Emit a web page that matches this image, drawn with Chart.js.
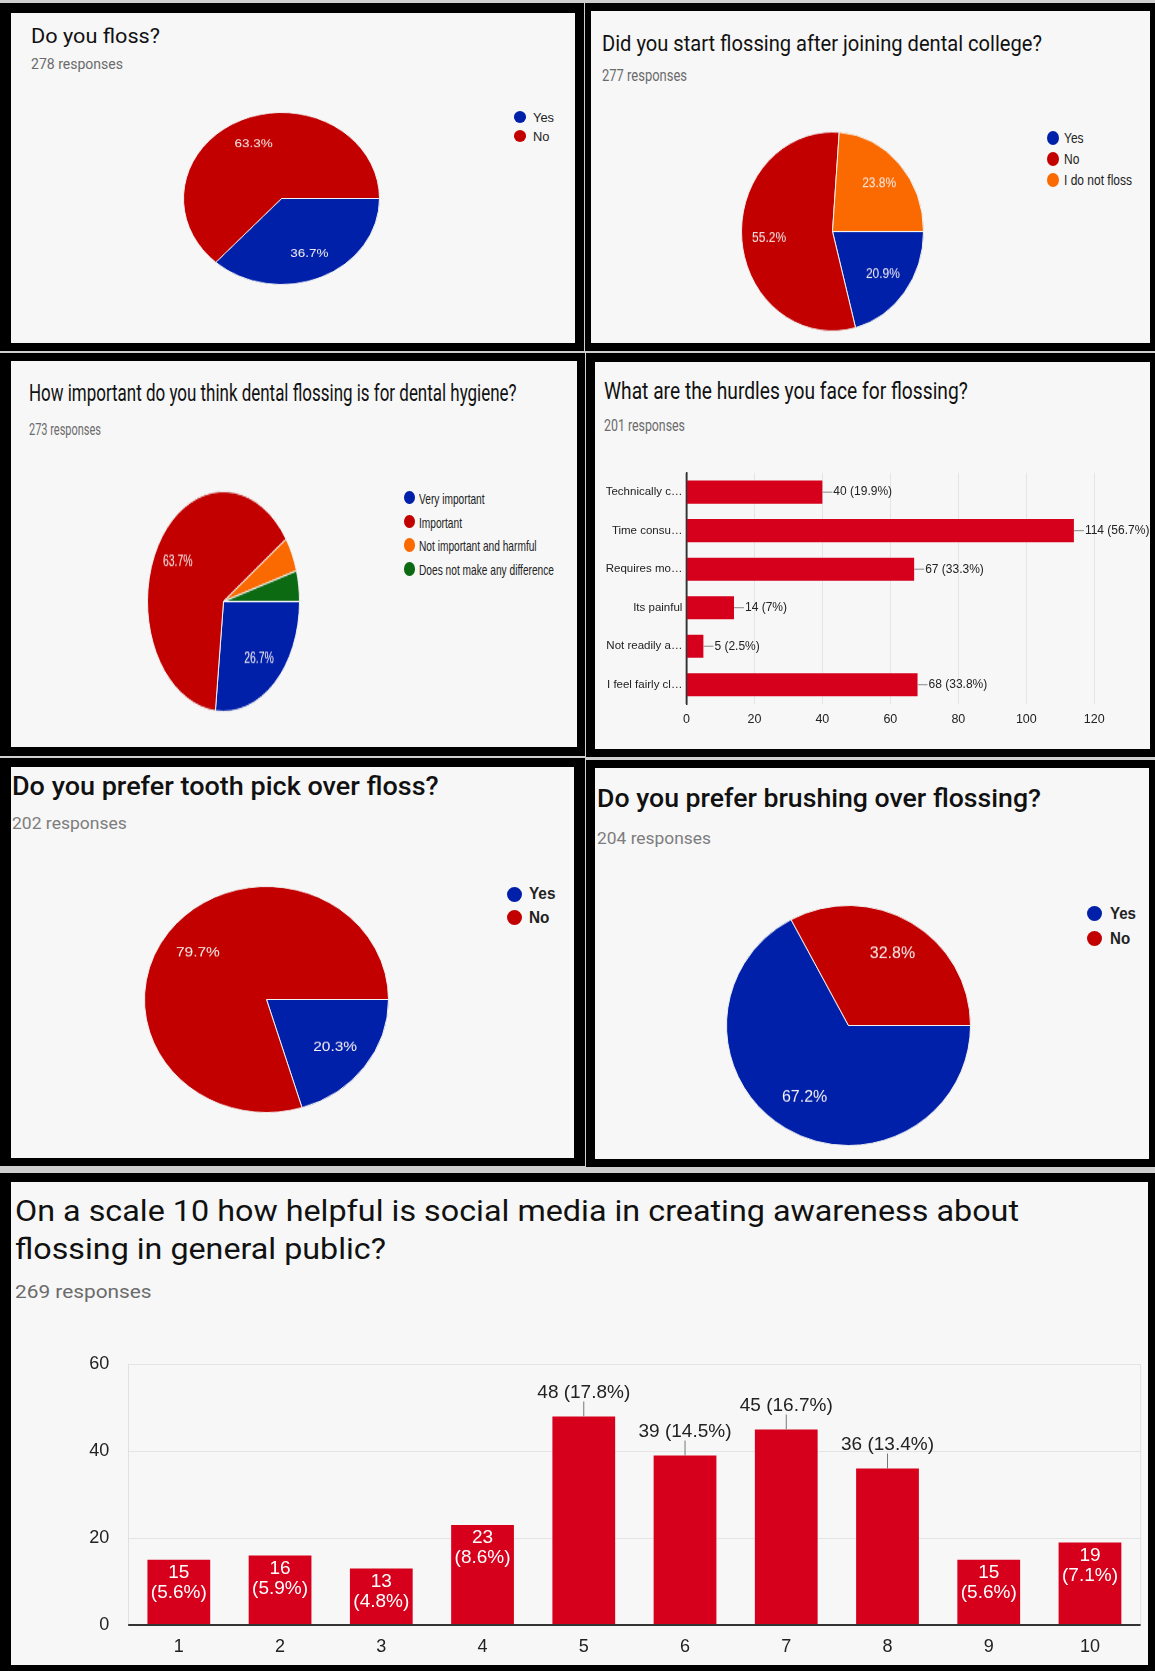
<!DOCTYPE html>
<html>
<head>
<meta charset="utf-8">
<script src="https://cdn.jsdelivr.net/npm/chart.js@4.4.0/dist/chart.umd.min.js"></script>
<style>
html, body { margin: 0; padding: 0; }
body { width: 1155px; height: 1671px; position: relative; background: #cfcfcf; overflow: hidden; font-family: Roboto, sans-serif; }
.panel { position: absolute; background: #000; }
.inner { position: absolute; background: #f7f7f7; }
.t { position: absolute; white-space: nowrap; line-height: 1; transform-origin: 0 0; }
.box { position: absolute; }
.dot { position: absolute; border-radius: 50%; }
</style>
</head>
<body>
<script>
const flossLabels = ["Yes", "No"];
const flossValues = [36.7, 63.3];

const startLabels = ["Yes", "No", "I do not floss"];
const startValues = [20.9, 55.2, 23.8];

const importanceLabels = ["Very important", "Important", "Not important and harmful", "Does not make any difference"];
const importanceValues = [26.7, 63.7, 5.1, 4.5];

const hurdleLabels = ["Technically c…", "Time consu…", "Requires mo…", "Its painful", "Not readily a…", "I feel fairly cl…"];
const hurdleCounts = [40, 114, 67, 14, 5, 68];
const hurdlePct = ["19.9%", "56.7%", "33.3%", "7%", "2.5%", "33.8%"];
const hurdleTicks = [0, 20, 40, 60, 80, 100, 120];

const toothpickLabels = ["Yes", "No"];
const toothpickValues = [20.3, 79.7];

const brushLabels = ["Yes", "No"];
const brushValues = [67.2, 32.8];

const scaleLabels = ["1", "2", "3", "4", "5", "6", "7", "8", "9", "10"];
const scaleCounts = [15, 16, 13, 23, 48, 39, 45, 36, 15, 19];
const scalePct = ["5.6%", "5.9%", "4.8%", "8.6%", "17.8%", "14.5%", "16.7%", "13.4%", "5.6%", "7.1%"];
const scaleTicks = [0, 20, 40, 60];

const blue = "#0020aa";
const red = "#c20000";
const orange = "#fa6a00";
const green = "#0c6a12";
const barRed = "#d6001c";
const chartFont = "Liberation Sans";

function rect(cls, x0, y0, x1, y1) {
  const el = document.createElement("div");
  el.className = cls;
  Object.assign(el.style, { left: x0 + "px", top: y0 + "px", width: (x1 - x0) + "px", height: (y1 - y0) + "px" });
  document.body.appendChild(el);
  return el;
}

function panel(o, i) {
  rect("panel", ...o);
  rect("inner", ...i);
}

function text(s, x, base, size, width, opts = {}) {
  const el = document.createElement("div");
  el.className = "t";
  el.textContent = s;
  el.style.fontSize = size + "px";
  el.style.fontFamily = opts.font || "Roboto";
  el.style.fontWeight = opts.weight || 400;
  el.style.color = opts.color || "#111";
  el.style.left = x + "px";
  el.style.top = (base - 0.84 * size) + "px";
  document.body.appendChild(el);
  if (width) {
    const w = el.getBoundingClientRect().width;
    el.style.transform = `scaleX(${width / w})`;
  }
  return el;
}

function legend(labels, colors, cx, ys, dw, dh, tx, size, ref, refWidth, weight) {
  const els = labels.map((l, k) => {
    const d = rect("dot", cx - dw / 2, ys[k] - dh / 2, cx + dw / 2, ys[k] + dh / 2);
    d.style.background = colors[k];
    return text(l, tx, ys[k] + 0.36 * size, size, null, { font: chartFont, weight: weight || 400, color: "#222" });
  });
  const sx = refWidth / els[ref].getBoundingClientRect().width;
  els.forEach((el) => (el.style.transform = `scaleX(${sx})`));
}

function box(x, y, w, h) {
  const d = rect("box", x, y, x + w, y + h);
  const c = document.createElement("canvas");
  d.appendChild(c);
  return { d, c };
}

function sliceLabels(size) {
  return {
    id: "sliceLabels",
    afterDatasetsDraw(chart) {
      const ctx = chart.ctx;
      const data = chart.data.datasets[0].data;
      ctx.save();
      ctx.font = `${size}px '${chartFont}'`;
      ctx.fillStyle = "#f8f2f2";
      ctx.textAlign = "center";
      ctx.textBaseline = "middle";
      chart.getDatasetMeta(0).data.forEach((arc, k) => {
        if (data[k] < 10) return;
        const a = (arc.startAngle + arc.endAngle) / 2;
        const r = arc.outerRadius * 0.7;
        ctx.fillText(data[k].toFixed(1) + "%", arc.x + Math.cos(a) * r, arc.y + Math.sin(a) * r);
      });
      ctx.restore();
    },
  };
}

function pie(cx, cy, rx, ry, labels, values, colors, fontSize) {
  const S = 2 * rx + 1;
  const { d, c } = box(cx - S / 2, cy - S / 2, S, S);
  d.style.transform = `scaleY(${ry / rx})`;
  new Chart(c, {
    type: "pie",
    data: {
      labels,
      datasets: [{ data: values, backgroundColor: colors, borderColor: "#f1f1f1", borderWidth: 1 }],
    },
    options: {
      responsive: true,
      maintainAspectRatio: false,
      animation: false,
      rotation: 90,
      layout: { padding: 0 },
      plugins: { legend: { display: false }, tooltip: { enabled: false } },
    },
    plugins: [sliceLabels(fontSize)],
  });
}

// panels: outer black frame, then light card
panel([0, 3, 584, 351], [11, 13, 575, 343]);
panel([585, 3, 1155, 351], [591, 11, 1150, 343]);
panel([0, 353, 585, 756], [11, 361, 577, 747]);
panel([586, 353, 1155, 757], [595, 362, 1150, 749]);
panel([0, 758, 585, 1166], [11, 767, 574, 1158]);
panel([586, 760, 1155, 1167], [595, 768, 1149, 1159]);
panel([0, 1173, 1155, 1671], [11, 1182, 1148, 1665]);

const sub = { color: "#6b6b6b" };
const subLight = { color: "#7d7d7d" };

// Do you floss?
text("Do you floss?", 31.4, 43.3, 21, 129);
text("278 responses", 31.4, 69, 14, 92, sub);
pie(281.3, 198.7, 98, 86, flossLabels, flossValues, [blue, red], 13.5);
legend(flossLabels, [blue, red], 520, [117.3, 136.3], 12.6, 12, 533, 13, 0, 21);

// Did you start flossing after joining dental college?
text("Did you start flossing after joining dental college?", 602, 51.7, 22, 440);
text("277 responses", 602, 81.7, 16, 85, sub);
pie(832.5, 231, 91, 99.5, startLabels, startValues, [blue, red, orange], 12);
legend(startLabels, [blue, red, orange], 1052.6, [137.7, 159, 180.3], 12, 14, 1064, 14.5, 2, 68);

// How important...
text("How important do you think dental flossing is for dental hygiene?", 29, 401.7, 23.5, 487.6);
text("273 responses", 29, 435, 16, 72, sub);
pie(223, 601, 76, 110, importanceLabels, importanceValues, [blue, red, orange, green], 10.5);
legend(importanceLabels, [blue, red, orange, green], 409.5, [497.7, 521.7, 545, 569], 10.7, 13.3, 419, 15, 3, 135);

// Hurdles
text("What are the hurdles you face for flossing?", 603.6, 399.3, 23.5, 363.8);
text("201 responses", 603.6, 431.7, 16, 81, sub);

const hurdleValueLabels = {
  id: "hurdleValueLabels",
  afterDatasetsDraw(chart) {
    const ctx = chart.ctx;
    const x0 = chart.scales.x.getPixelForValue(0);
    ctx.save();
    ctx.strokeStyle = "#333";
    ctx.lineWidth = 1.5;
    ctx.beginPath();
    ctx.moveTo(x0, chart.chartArea.top);
    ctx.lineTo(x0, chart.chartArea.bottom);
    ctx.stroke();
    ctx.font = `12px '${chartFont}'`;
    ctx.textBaseline = "middle";
    chart.getDatasetMeta(0).data.forEach((bar, k) => {
      ctx.strokeStyle = "#888";
      ctx.lineWidth = 1;
      ctx.beginPath();
      ctx.moveTo(bar.x, bar.y);
      ctx.lineTo(bar.x + 10, bar.y);
      ctx.stroke();
      ctx.fillStyle = "#222";
      ctx.fillText(`${hurdleCounts[k]} (${hurdlePct[k]})`, bar.x + 11, bar.y);
    });
    ctx.restore();
  },
};

const hurdleBox = box(596, 462, 554, 280);
new Chart(hurdleBox.c, {
  type: "bar",
  data: {
    labels: hurdleLabels,
    datasets: [{ data: hurdleCounts, backgroundColor: barRed, barPercentage: 0.6, categoryPercentage: 1 }],
  },
  options: {
    indexAxis: "y",
    responsive: true,
    maintainAspectRatio: false,
    animation: false,
    layout: { padding: { left: 0, right: 55.7, top: 9.7, bottom: 0 } },
    plugins: { legend: { display: false }, tooltip: { enabled: false } },
    scales: {
      x: {
        min: 0,
        max: 120,
        afterBuildTicks: (s) => { s.ticks = hurdleTicks.map((v) => ({ value: v })); },
        afterFit: (s) => { s.height = 38; },
        grid: { color: "#e4e4e4", drawTicks: false },
        border: { display: false },
        ticks: { padding: 8, color: "#222", font: { family: chartFont, size: 12.5 } },
      },
      y: {
        afterFit: (s) => { s.width = 90.4; },
        grid: { display: false, drawTicks: false },
        border: { display: true, color: "#333", width: 1.5 },
        ticks: { padding: 4, color: "#222", font: { family: chartFont, size: 11.5 } },
      },
    },
  },
  plugins: [hurdleValueLabels],
});

// Tooth pick
text("Do you prefer tooth pick over floss?", 11.5, 795, 25, 426.7, { weight: 500 });
text("202 responses", 11.5, 829.3, 17, 114.8, subLight);
pie(266, 999.3, 122, 113, toothpickLabels, toothpickValues, [blue, red], 15.5);
legend(toothpickLabels, [blue, red], 514, [894, 917.7], 15, 15, 529.3, 16, 0, 26.4, 700);

// Brushing
text("Do you prefer brushing over flossing?", 597, 807.3, 26.5, 444, { weight: 500 });
text("204 responses", 597, 844.3, 17, 114, subLight);
pie(848, 1025.3, 122, 120, brushLabels, brushValues, [blue, red], 16);
legend(brushLabels, [blue, red], 1094, [913.3, 938.3], 15, 15, 1110, 16, 0, 26, 700);

// Social media scale
text("On a scale 10 how helpful is social media in creating awareness about", 15.3, 1221.7, 29.5, 1004);
text("flossing in general public?", 15.3, 1259.3, 29.5, 371);
text("269 responses", 15.3, 1298.4, 19, 136.6, sub);

const scaleValueLabels = {
  id: "scaleValueLabels",
  afterDatasetsDraw(chart) {
    const ctx = chart.ctx;
    const { left, right, top, bottom } = chart.chartArea;
    const y0 = chart.scales.y.getPixelForValue(0);
    ctx.save();
    ctx.strokeStyle = "#e0e0e0";
    ctx.lineWidth = 1;
    ctx.beginPath();
    ctx.moveTo(right, top);
    ctx.lineTo(right, bottom);
    ctx.stroke();
    ctx.strokeStyle = "#333";
    ctx.lineWidth = 2;
    ctx.beginPath();
    ctx.moveTo(left, y0);
    ctx.lineTo(right, y0);
    ctx.stroke();
    ctx.font = `19px '${chartFont}'`;
    ctx.textAlign = "center";
    ctx.textBaseline = "middle";
    chart.getDatasetMeta(0).data.forEach((bar, k) => {
      const v = scaleCounts[k];
      const pct = `(${scalePct[k]})`;
      if (v < 30) {
        ctx.fillStyle = "#fff";
        ctx.fillText(String(v), bar.x, bar.y + 13);
        ctx.fillText(pct, bar.x, bar.y + 33);
      } else {
        ctx.strokeStyle = "#777";
        ctx.lineWidth = 1;
        ctx.beginPath();
        ctx.moveTo(bar.x, bar.y);
        ctx.lineTo(bar.x, bar.y - 15);
        ctx.stroke();
        ctx.fillStyle = "#222";
        ctx.fillText(`${v} ${pct}`, bar.x, bar.y - 23.5);
      }
    });
    ctx.restore();
  },
};

const scaleBox = box(11, 1320, 1137, 345);
new Chart(scaleBox.c, {
  type: "bar",
  data: {
    labels: scaleLabels,
    datasets: [{ data: scaleCounts, backgroundColor: barRed, barPercentage: 0.62, categoryPercentage: 1 }],
  },
  options: {
    responsive: true,
    maintainAspectRatio: false,
    animation: false,
    layout: { padding: { left: 0, right: 7.4, top: 44.3, bottom: 0 } },
    plugins: { legend: { display: false }, tooltip: { enabled: false } },
    scales: {
      x: {
        afterFit: (s) => { s.height = 40; },
        grid: { display: false, drawTicks: false },
        border: { display: false },
        ticks: { padding: 11, color: "#222", font: { family: chartFont, size: 18 } },
      },
      y: {
        min: 0,
        max: 60,
        afterBuildTicks: (s) => { s.ticks = scaleTicks.map((v) => ({ value: v })); },
        afterFit: (s) => { s.width = 117.2; },
        grid: { color: "#e4e4e4", drawTicks: false },
        border: { display: true, color: "#e0e0e0", width: 1 },
        ticks: { padding: 19, color: "#222", font: { family: chartFont, size: 18 } },
      },
    },
  },
  plugins: [scaleValueLabels],
});
</script>
</body>
</html>
